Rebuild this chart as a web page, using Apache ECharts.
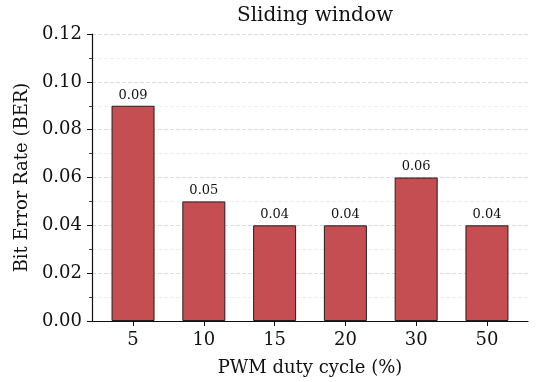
<!DOCTYPE html>
<html>
<head>
<meta charset="utf-8">
<script src="https://cdn.jsdelivr.net/npm/echarts@6/dist/echarts.min.js"></script>
<style>
html,body{margin:0;padding:0;background:#fff;}
#chart{width:537px;height:382px;}
</style>
</head>
<body>
<div id="chart"></div>
<script>
const categories = ['5', '10', '15', '20', '30', '50'];
const berValues = [0.09, 0.05, 0.04, 0.04, 0.06, 0.04];
const yTicks = [0, 0.02, 0.04, 0.06, 0.08, 0.10, 0.12];

const FONT = 'DejaVu Serif';
const chart = echarts.init(document.getElementById('chart'));
const idx = categories.map((c, i) => i);

chart.setOption({
  animation: false,
  backgroundColor: '#fff',
  title: {
    text: 'Sliding window',
    left: 310, top: 1, textAlign: 'center',
    textStyle: {fontFamily: FONT, fontSize: 20, fontWeight: 'normal', color: '#111'}
  },
  grid: {left: 92, right: 9, top: 34, bottom: 61, containLabel: false, outerBoundsMode: 'none'},
  xAxis: {
    type: 'value',
    min: -0.58, max: 5.58,
    name: 'PWM duty cycle (%)',
    nameLocation: 'middle', nameGap: 38,
    nameTextStyle: {fontFamily: FONT, fontSize: 18, color: '#111'},
    axisLine: {show: true, onZero: false, lineStyle: {color: '#111', width: 1.2}},
    axisTick: {show: true, length: 5, lineStyle: {color: '#111', width: 1}, customValues: idx},
    axisLabel: {
      customValues: idx,
      fontFamily: FONT, fontSize: 18, color: '#111', margin: 10,
      formatter: v => categories[Math.round(v)]
    },
    splitLine: {show: false}
  },
  yAxis: {
    type: 'value',
    min: 0, max: 0.12, interval: 0.02,
    name: 'Bit Error Rate (BER)',
    nameLocation: 'middle', nameGap: 61, nameRotate: 90,
    nameTextStyle: {fontFamily: FONT, fontSize: 18, color: '#111'},
    axisLine: {show: true, onZero: false, lineStyle: {color: '#111', width: 1.2}},
    axisTick: {show: true, length: 5, lineStyle: {color: '#111', width: 1}},
    minorTick: {show: true, splitNumber: 2, length: 3, lineStyle: {color: '#111', width: 0.8}},
    axisLabel: {
      fontFamily: FONT, fontSize: 18, color: '#111', margin: 10,
      customValues: yTicks,
      formatter: v => v.toFixed(2)
    },
    splitLine: {show: true, lineStyle: {color: '#d2d2d2', type: [4, 2], width: 0.8}},
    minorSplitLine: {show: true, lineStyle: {color: '#ebebeb', type: [4, 2], width: 0.8}}
  },
  series: [{
    type: 'bar',
    data: berValues.map((v, i) => [i, v]),
    barWidth: 43,
    itemStyle: {color: '#c44e52', borderColor: '#2b1a1a', borderWidth: 1},
    label: {
      show: true, position: 'top', distance: 4,
      fontFamily: FONT, fontSize: 13, color: '#111',
      formatter: p => p.value[1].toFixed(2)
    }
  }]
});
</script>
</body>
</html>
